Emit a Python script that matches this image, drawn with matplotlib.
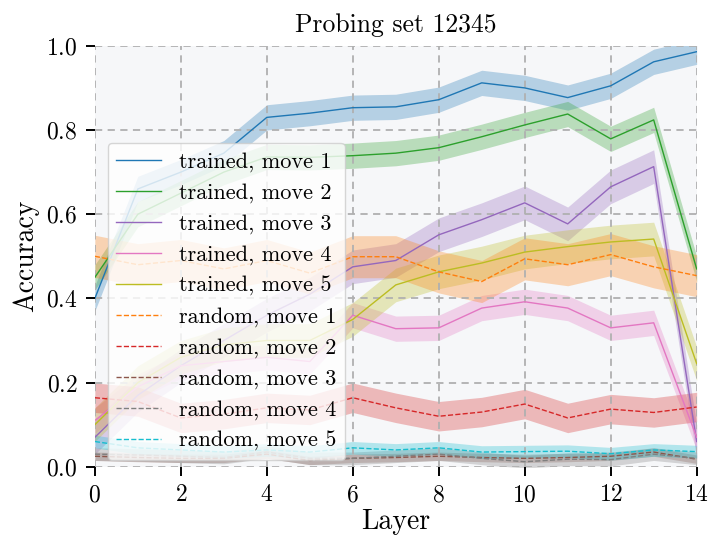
import numpy as np
import matplotlib
matplotlib.use("Agg")
import matplotlib.pyplot as plt

plt.rcParams['font.family'] = 'serif'
plt.rcParams['font.serif'] = ['cmr10', 'DejaVu Serif']
plt.rcParams['mathtext.fontset'] = 'cm'
plt.rcParams['axes.unicode_minus'] = False
plt.rcParams['axes.formatter.use_mathtext'] = True

layers = np.arange(15)

# accuracy par couche (moyenne) pour chaque tête de probing
trained_1 = [0.40, 0.66, 0.70, 0.745, 0.83, 0.84, 0.853, 0.855, 0.872, 0.912, 0.90, 0.877, 0.905, 0.962, 0.986]
trained_2 = [0.45, 0.60, 0.65, 0.70, 0.736, 0.735, 0.739, 0.745, 0.758, 0.784, 0.812, 0.838, 0.779, 0.824, 0.47]
trained_3 = [0.07, 0.17, 0.24, 0.30, 0.36, 0.41, 0.475, 0.49, 0.551, 0.587, 0.627, 0.577, 0.665, 0.713, 0.06]
trained_4 = [0.11, 0.19, 0.24, 0.25, 0.26, 0.25, 0.36, 0.328, 0.33, 0.377, 0.392, 0.377, 0.33, 0.342, 0.07]
trained_5 = [0.10, 0.20, 0.26, 0.29, 0.30, 0.30, 0.35, 0.432, 0.463, 0.484, 0.51, 0.523, 0.534, 0.541, 0.245]
random_1 = [0.50, 0.48, 0.49, 0.47, 0.49, 0.46, 0.499, 0.499, 0.463, 0.44, 0.494, 0.48, 0.504, 0.475, 0.454]
random_2 = [0.164, 0.155, 0.116, 0.125, 0.14, 0.135, 0.164, 0.14, 0.12, 0.13, 0.149, 0.116, 0.137, 0.129, 0.142]
random_3 = [0.025, 0.022, 0.02, 0.02, 0.03, 0.015, 0.02, 0.022, 0.025, 0.022, 0.02, 0.022, 0.025, 0.035, 0.018]
random_4 = [0.03, 0.028, 0.025, 0.022, 0.035, 0.02, 0.02, 0.025, 0.03, 0.02, 0.012, 0.018, 0.017, 0.03, 0.02]
random_5 = [0.06, 0.045, 0.04, 0.035, 0.04, 0.035, 0.045, 0.04, 0.045, 0.035, 0.036, 0.037, 0.031, 0.04, 0.036]

# demi-largeur des bandes (écart type)
spread = [0.03, 0.03, 0.04, 0.03, 0.04, 0.05, 0.035, 0.01, 0.015, 0.015]

series = [trained_1, trained_2, trained_3, trained_4, trained_5,
          random_1, random_2, random_3, random_4, random_5]
labels = [f"trained, move {i}" for i in range(1, 6)] + [f"random, move {i}" for i in range(1, 6)]
colors = ['C0', 'C2', 'C4', 'C6', 'C8', 'C1', 'C3', 'C5', 'C7', 'C9']
styles = ['-'] * 5 + ['--'] * 5

fig = plt.figure(figsize=(7.08, 5.39), dpi=100)
ax = fig.add_axes([0.134, 0.134, 0.850, 0.781])
ax.set_facecolor('#f6f7f9')

for y, s, lab, c, ls in zip(series, spread, labels, colors, styles):
    y = np.array(y)
    ax.plot(layers, y, color=c, ls=ls, lw=1.0, label=lab)
    ax.fill_between(layers, y - s, y + s, color=c, alpha=0.3, lw=0)

ax.set_xlim(0, 14)
ax.set_ylim(0, 1)
ax.set_xticks(range(0, 15, 2))
ax.set_yticks(np.arange(0, 1.01, 0.2))
ax.grid(True, ls=(0, (4, 3)), color='#b0b0b0', lw=1.3)
for sp in ax.spines.values():
    sp.set_visible(False)
ax.tick_params(length=6.5, width=1.4, labelsize=17, pad=6)

ax.set_title("Probing set 12345", fontsize=18.5, pad=10)
ax.set_xlabel("Layer", fontsize=20, labelpad=2)
ax.set_ylabel("Accuracy", fontsize=20, labelpad=5)
ax.legend(loc='lower left', fontsize=16, framealpha=0.8, borderaxespad=0.3,
          handlelength=2.0, labelspacing=0.5, bbox_to_anchor=(0.01, 0.0))

fig.savefig("out.png", dpi=100)
